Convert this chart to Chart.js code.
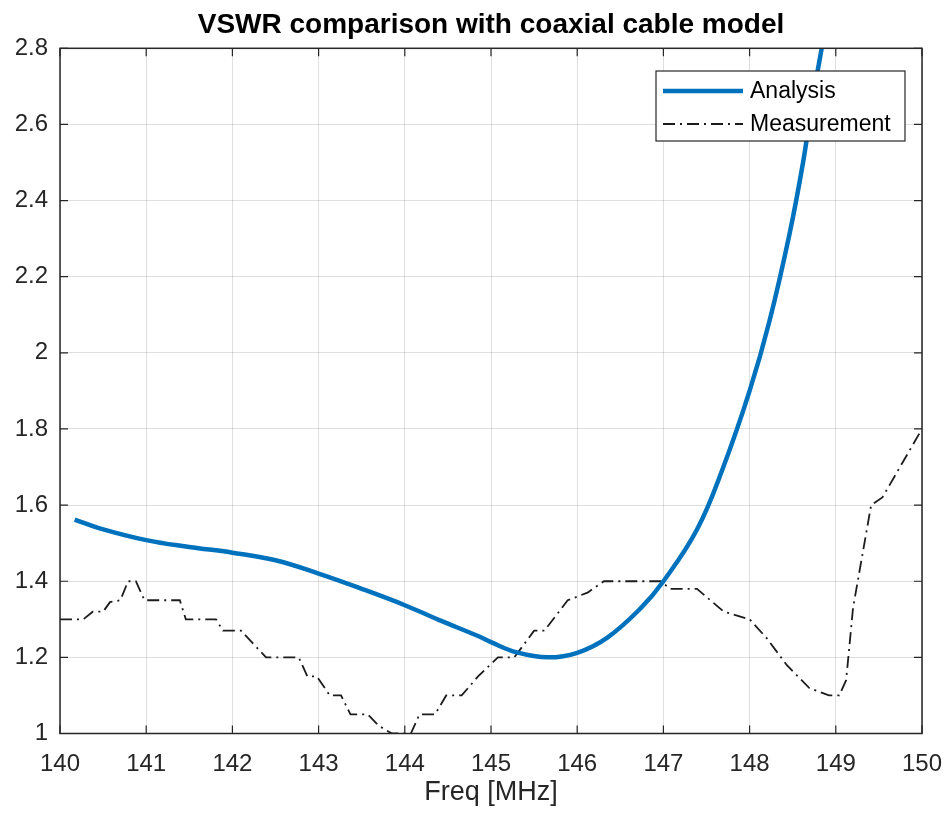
<!DOCTYPE html>
<html>
<head>
<meta charset="utf-8">
<script src="https://cdn.jsdelivr.net/npm/chart.js@4.4.0/dist/chart.umd.min.js"></script>
<style>
  html, body { margin: 0; padding: 0; background: #fff; }
  canvas { display: block; }
</style>
</head>
<body>
<canvas id="vswr" width="949" height="818"></canvas>
<script>
'use strict';

const titleText = 'VSWR comparison with coaxial cable model';
const xLabel    = 'Freq [MHz]';

const xTickValues = [140, 141, 142, 143, 144, 145, 146, 147, 148, 149, 150];
const yTickValues = [1, 1.2, 1.4, 1.6, 1.8, 2, 2.2, 2.4, 2.6, 2.8];

// Analysis (coax model)
const analysisFreq = [140.17, 140.46, 141.0, 141.5, 142.0, 142.5, 143.0, 143.5, 144.0, 144.4,
                      144.85, 145.0, 145.3, 145.66, 146.0, 146.35, 146.74, 147.0, 147.39,
                      147.69, 148.0, 148.23, 148.46, 148.62, 148.73, 148.86];
const analysisVswr = [1.562, 1.539, 1.508, 1.490, 1.475, 1.455, 1.420, 1.380, 1.337, 1.298,
                      1.256, 1.240, 1.213, 1.200, 1.212, 1.252, 1.330, 1.400, 1.536,
                      1.697, 1.900, 2.083, 2.309, 2.500, 2.663, 2.830];

// Measurement — stepped trace
const measFreq = [140.0, 140.27, 140.38, 140.5, 140.58, 140.7, 140.79, 140.88, 140.98, 141.39,
                  141.46, 141.81, 141.89, 142.1, 142.39, 142.77, 142.87, 142.98, 143.13, 143.26,
                  143.37, 143.57, 143.7, 143.85, 144.07, 144.17, 144.35, 144.48, 144.66, 144.85,
                  145.08, 145.27, 145.5, 145.62, 145.89, 146.12, 146.31, 146.97, 147.08, 147.39,
                  147.7, 148.0, 148.2, 148.43, 148.69, 148.92, 149.04, 149.12, 149.2, 149.27,
                  149.41, 149.54, 150.0];
const measVswr = [1.30, 1.30, 1.32, 1.32, 1.345, 1.35, 1.40, 1.40, 1.35, 1.35,
                  1.30, 1.30, 1.27, 1.27, 1.20, 1.20, 1.15, 1.15, 1.10, 1.10,
                  1.05, 1.05, 1.02, 1.00, 1.00, 1.05, 1.05, 1.10, 1.10, 1.15,
                  1.20, 1.20, 1.27, 1.27, 1.35, 1.37, 1.40, 1.40, 1.38, 1.38,
                  1.32, 1.30, 1.25, 1.18, 1.12, 1.10, 1.10, 1.14, 1.33, 1.42,
                  1.60, 1.62, 1.80];

const FONT    = "'Liberation Sans', Arial, Helvetica, sans-serif";
const AXIS    = '#262626';
const GRID    = 'rgba(38,38,38,0.15)';
const TICKLEN = 8;

const toPoints = (xs, ys) => xs.map((x, i) => ({ x, y: ys[i] }));

// MATLAB-style box, inward ticks, title and boxed legend
const matlabFrame = {
  id: 'matlabFrame',
  afterDraw(chart) {
    const { ctx, chartArea: ca, scales: { x, y } } = chart;
    ctx.save();

    ctx.strokeStyle = AXIS;
    ctx.lineWidth   = 1.2;
    ctx.beginPath();
    xTickValues.forEach(v => {
      const px = x.getPixelForValue(v);
      ctx.moveTo(px, ca.bottom); ctx.lineTo(px, ca.bottom - TICKLEN);
      ctx.moveTo(px, ca.top);    ctx.lineTo(px, ca.top + TICKLEN);
    });
    yTickValues.forEach(v => {
      const py = y.getPixelForValue(v);
      ctx.moveTo(ca.left, py);  ctx.lineTo(ca.left + TICKLEN, py);
      ctx.moveTo(ca.right, py); ctx.lineTo(ca.right - TICKLEN, py);
    });
    ctx.stroke();

    ctx.lineWidth = 1.5;
    ctx.strokeRect(ca.left, ca.top, ca.right - ca.left, ca.bottom - ca.top);

    // title, centred over the axes
    ctx.fillStyle    = '#000';
    ctx.font         = `bold 28px ${FONT}`;
    ctx.textAlign    = 'center';
    ctx.textBaseline = 'alphabetic';
    ctx.fillText(titleText, (ca.left + ca.right) / 2, 33);

    // legend box
    const bw = 249, bh = 70;
    const bx = ca.right - 17 - bw;
    const by = ca.top + 22.7;
    ctx.fillStyle = '#fff';
    ctx.fillRect(bx, by, bw, bh);
    ctx.strokeStyle = AXIS;
    ctx.lineWidth   = 1.2;
    ctx.strokeRect(bx, by, bw, bh);

    ctx.font         = `23px ${FONT}`;
    ctx.textAlign    = 'left';
    ctx.textBaseline = 'middle';
    chart.data.datasets.forEach((ds, i) => {
      const ry = by + 20 + i * 33;
      ctx.save();
      ctx.strokeStyle = ds.borderColor;
      ctx.lineWidth   = ds.borderWidth;
      ctx.setLineDash(ds.borderDash || []);
      ctx.beginPath();
      ctx.moveTo(bx + 7, ry);
      ctx.lineTo(bx + 87, ry);
      ctx.stroke();
      ctx.restore();
      ctx.fillStyle = '#000';
      ctx.fillText(ds.label, bx + 94, ry + 1);
    });

    ctx.restore();
  },
};

new Chart(document.getElementById('vswr'), {
  type: 'line',
  data: {
    datasets: [
      {
        label:       'Analysis',
        data:        toPoints(analysisFreq, analysisVswr),
        borderColor: '#0072BD',
        borderWidth: 4.5,
        pointRadius: 0,
        tension:     0.4,
        fill:        false,
        clip:        0,
      },
      {
        label:       'Measurement',
        data:        toPoints(measFreq, measVswr),
        borderColor: '#1c1c1c',
        borderWidth: 1.8,
        borderDash:  [12, 5, 2, 5],
        pointRadius: 0,
        tension:     0,
        fill:        false,
      },
    ],
  },
  options: {
    responsive:       false,
    animation:        false,
    devicePixelRatio: 1,
    layout: { padding: { top: 48.3, right: 27, left: 0, bottom: 0 } },
    plugins: {
      legend:  { display: false },
      title:   { display: false },
      tooltip: { enabled: false },
    },
    scales: {
      x: {
        type: 'linear',
        min:  140,
        max:  150,
        afterBuildTicks: s => { s.ticks = xTickValues.map(v => ({ value: v })); },
        afterFit:        s => { s.height = 84.5; s.paddingLeft = 0; s.paddingRight = 0; },
        ticks:  { color: AXIS, font: { family: FONT, size: 24 }, padding: 16, maxRotation: 0,
                  callback: v => String(v) },
        grid:   { color: GRID, lineWidth: 1, drawTicks: false },
        border: { display: false },
        title:  { display: true, text: xLabel, color: AXIS,
                  font: { family: FONT, size: 27 }, padding: { top: 0, bottom: 9 } },
      },
      y: {
        type: 'linear',
        min:  1,
        max:  2.8,
        afterBuildTicks: s => { s.ticks = yTickValues.map(v => ({ value: v })); },
        afterFit:        s => { s.width = 60; },
        ticks:  { color: AXIS, font: { family: FONT, size: 24 }, padding: 12,
                  callback: v => String(v) },
        grid:   { color: GRID, lineWidth: 1, drawTicks: false },
        border: { display: false },
      },
    },
  },
  plugins: [matlabFrame],
});
</script>
</body>
</html>
